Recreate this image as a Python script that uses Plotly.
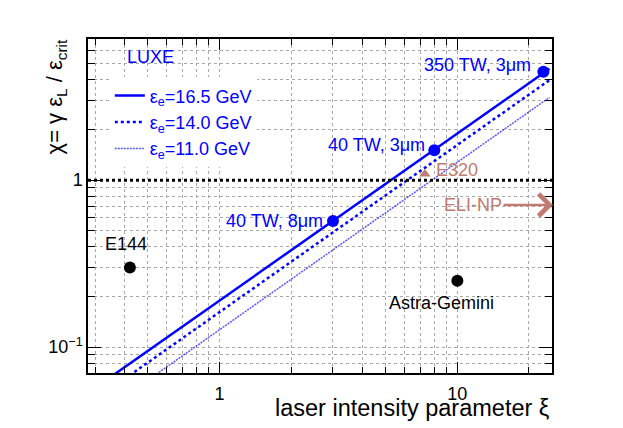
import math
import plotly.graph_objects as go

# ---------------- data ----------------
xi_range = [0.28, 25.0]
chi_range = [0.07, 7.0]

line_xi = [0.30, 24.4]
chi_165 = [0.057, 4.64]
chi_140 = [0.0485, 3.97]
chi_110 = [0.038, 3.13]

luxe_xi = [3.0, 8.0, 23.0]
luxe_chi = [0.57, 1.51, 4.45]
luxe_labels = ["40 TW, 8μm", "40 TW, 3μm", "350 TW, 3μm"]

other_names = ["E144", "Astra-Gemini"]
other_xi = [0.42, 10.0]
other_chi = [0.30, 0.25]

e320_xi = [7.3]
e320_chi = [1.09]
eli_chi = 0.71

x_major = [1, 10]
x_major_text = ["1", "10"]
x_minor = [0.3, 0.4, 0.5, 0.6, 0.7, 0.8, 0.9, 2, 3, 4, 5, 6, 7, 8, 9, 20]
y_major = [0.1, 1]
y_major_text = ["10<sup>−1</sup>", "1"]
y_minor = [0.08, 0.09, 0.2, 0.3, 0.4, 0.5, 0.6, 0.7, 0.8, 0.9, 2, 3, 4, 5, 6]

BLUE = "#0000ff"
ROSE = "#c07a70"
FONT = "Liberation Sans, Arial, Helvetica, sans-serif"

fig = go.Figure()

fig.add_trace(go.Scatter(x=line_xi, y=chi_165, mode="lines",
                         line=dict(color=BLUE, width=2.5),
                         name="ε<sub>e</sub>=16.5 GeV"))
fig.add_trace(go.Scatter(x=line_xi, y=chi_140, mode="lines",
                         line=dict(color=BLUE, width=2.5, dash="dot"),
                         name="ε<sub>e</sub>=14.0 GeV"))
fig.add_trace(go.Scatter(x=line_xi, y=chi_110, mode="lines",
                         line=dict(color="rgba(30,30,255,0.75)", width=1.5, dash="2px,1px"),
                         name="ε<sub>e</sub>=11.0 GeV"))

# chi = 1 reference line
fig.add_trace(go.Scatter(x=xi_range, y=[1, 1], mode="lines",
                         line=dict(color="black", width=3, dash="dot"),
                         showlegend=False, hoverinfo="skip"))

fig.add_trace(go.Scatter(x=luxe_xi, y=luxe_chi, mode="markers",
                         marker=dict(color=BLUE, size=12), showlegend=False))
fig.add_trace(go.Scatter(x=other_xi, y=other_chi, mode="markers",
                         marker=dict(color="black", size=12), showlegend=False))
fig.add_trace(go.Scatter(x=e320_xi, y=e320_chi, mode="markers",
                         marker=dict(color=ROSE, size=10, symbol="triangle-up"),
                         showlegend=False))

L = math.log10
ann = []
lab_shift = [(-8, 0), (-7, 5), (-10, 7)]
for xv, yv, t, (dx, dy) in zip(luxe_xi, luxe_chi, luxe_labels, lab_shift):
    ann.append(dict(x=L(xv), y=L(yv), xref="x", yref="y", text=t, showarrow=False,
                    xanchor="right", yanchor="middle", xshift=dx, yshift=dy,
                    font=dict(color=BLUE, size=18, family=FONT)))
oth_shift = [(-4, 23), (-16, -22)]
for xv, yv, t, (dx, dy) in zip(other_xi, other_chi, other_names, oth_shift):
    ann.append(dict(x=L(xv), y=L(yv), xref="x", yref="y", text=t, showarrow=False,
                    xanchor="center", yanchor="middle", xshift=dx, yshift=dy,
                    font=dict(color="black", size=18, family=FONT)))
ann.append(dict(x=L(e320_xi[0]), y=L(e320_chi[0]), xref="x", yref="y", text="E320",
                showarrow=False, xanchor="left", yanchor="middle", xshift=9, yshift=4,
                font=dict(color=ROSE, size=18, family=FONT)))
ann.append(dict(x=L(xi_range[1]), y=L(eli_chi), xref="x", yref="y", text="ELI-NP",
                showarrow=True, arrowhead=4, arrowsize=1.7, arrowwidth=2.5, arrowcolor=ROSE,
                ax=-80, ay=0, xshift=1,
                font=dict(color=ROSE, size=18, family=FONT)))
ann.append(dict(x=0.0797, y=0.946, xref="paper", yref="paper", text="LUXE", showarrow=False,
                xanchor="left", yanchor="middle", font=dict(color=BLUE, size=18, family=FONT)))
ann.append(dict(x=-0.067, y=1.006, xref="paper", yref="paper",
                text="χ= γ ε<sub>L</sub> / ε<sub>crit</sub>", showarrow=False, textangle=-90,
                xanchor="center", yanchor="top", font=dict(color="black", size=22, family=FONT)))
ann.append(dict(x=1.0, y=-0.105, xref="paper", yref="paper",
                text="laser intensity parameter ξ", showarrow=False,
                xanchor="right", yanchor="middle", font=dict(color="black", size=23.5, family=FONT)))

grid = dict(showgrid=True, gridcolor="#a8a8a8", griddash="dot", gridwidth=1)
fig.update_xaxes(type="log", range=[L(xi_range[0]), L(xi_range[1])],
                 tickmode="array", tickvals=x_major, ticktext=x_major_text,
                 ticks="inside", ticklen=11, tickwidth=1.2, tickcolor="black",
                 ticklabelstandoff=4,
                 showline=True, linecolor="black", linewidth=1.5, mirror="allticks",
                 zeroline=False, tickfont=dict(size=18, family=FONT, color="black"),
                 minor=dict(tickmode="array", tickvals=x_minor, ticks="inside", ticklen=6,
                            tickwidth=1.2, tickcolor="black", **grid),
                 **grid)
fig.update_yaxes(type="log", range=[L(chi_range[0]), L(chi_range[1])],
                 tickmode="array", tickvals=y_major, ticktext=y_major_text,
                 ticks="inside", ticklen=13, tickwidth=1.2, tickcolor="black",
                 showline=True, linecolor="black", linewidth=1.5, mirror="allticks",
                 zeroline=False, tickfont=dict(size=18, family=FONT, color="black"),
                 minor=dict(tickmode="array", tickvals=y_minor, ticks="inside", ticklen=7,
                            tickwidth=1.2, tickcolor="black", **grid),
                 **grid)

fig.update_layout(
    width=623, height=428, autosize=False,
    margin=dict(l=80, r=79, t=31, b=63),
    paper_bgcolor="white", plot_bgcolor="white",
    font=dict(family=FONT, size=18, color="black"),
    showlegend=True,
    legend=dict(x=0.047, y=0.885, xanchor="left", yanchor="top", bgcolor="white",
                font=dict(color=BLUE, size=18, family=FONT), tracegroupgap=0,
                borderwidth=0),
    annotations=ann,
)

fig.write_html("out.html")
